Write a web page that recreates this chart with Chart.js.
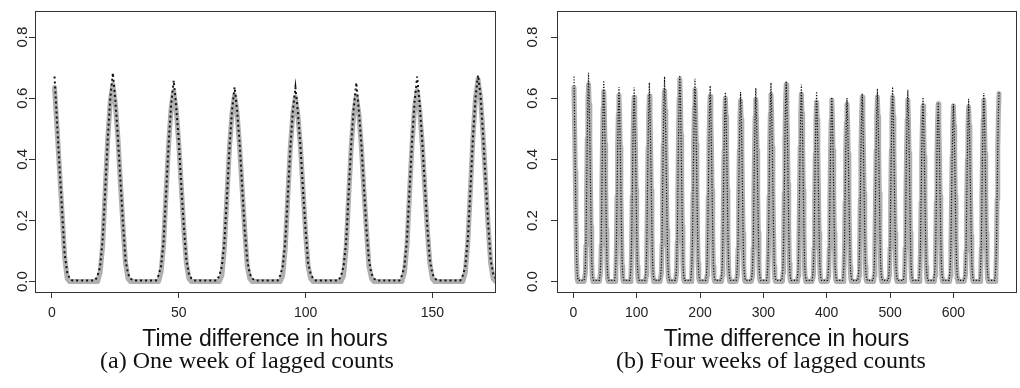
<!DOCTYPE html>
<html lang="en">
<head>
<meta charset="UTF-8">
<title>Lagged counts</title>
<script src="https://cdn.jsdelivr.net/npm/chart.js"></script>
<style>
  body { margin: 0; background: #fff; width: 1020px; height: 388px; position: relative; overflow: hidden; }
  .panel { position: absolute; top: 0; }
  .caption {
    position: absolute; top: 348px;
    font-family: 'Liberation Serif', 'Times New Roman', serif;
    font-size: 24px; line-height: 24px; color: #111;
    white-space: nowrap; transform: translateX(-50%);
  }
</style>
</head>
<body>

<canvas id="weekChart" class="panel" width="510" height="353" style="left:0"></canvas>
<canvas id="monthChart" class="panel" width="510" height="353" style="left:510px"></canvas>
<div class="caption" style="left:247px">(a) One week of lagged counts</div>
<div class="caption" style="left:771px">(b) Four weeks of lagged counts</div>

<script>
// lag in hours runs 1..672, one row per day (24 values)
// grey line: observed lagged counts
const observed = [
  0.635,0.50,0.36,0.22,0.08,0.01, 0,0,0,0,0,0,0,0,0,0,0,0, 0.03,0.12,0.30,0.47,0.59,0.645,
  0.58,0.47,0.32,0.18,0.06,0.01, 0,0,0,0,0,0,0,0,0,0,0,0, 0.03,0.12,0.29,0.45,0.57,0.622,
  0.56,0.45,0.31,0.17,0.06,0.01, 0,0,0,0,0,0,0,0,0,0,0,0, 0.02,0.11,0.28,0.44,0.55,0.610,
  0.55,0.44,0.30,0.17,0.05,0.01, 0,0,0,0,0,0,0,0,0,0,0,0, 0.02,0.11,0.28,0.44,0.55,0.603,
  0.54,0.44,0.30,0.16,0.05,0.01, 0,0,0,0,0,0,0,0,0,0,0,0, 0.02,0.11,0.28,0.44,0.55,0.607,
  0.55,0.44,0.30,0.17,0.05,0.01, 0,0,0,0,0,0,0,0,0,0,0,0, 0.03,0.12,0.29,0.45,0.57,0.625,
  0.56,0.45,0.31,0.17,0.06,0.01, 0,0,0,0,0,0,0,0,0,0,0,0, 0.03,0.13,0.30,0.47,0.60,0.662,
  0.60,0.48,0.33,0.18,0.06,0.01, 0,0,0,0,0,0,0,0,0,0,0,0, 0.03,0.12,0.29,0.45,0.57,0.628,
  0.56,0.45,0.31,0.17,0.06,0.01, 0,0,0,0,0,0,0,0,0,0,0,0, 0.02,0.11,0.28,0.44,0.55,0.606,
  0.54,0.44,0.30,0.16,0.05,0.01, 0,0,0,0,0,0,0,0,0,0,0,0, 0.02,0.11,0.28,0.43,0.54,0.600,
  0.54,0.43,0.30,0.16,0.05,0.01, 0,0,0,0,0,0,0,0,0,0,0,0, 0.02,0.11,0.27,0.43,0.53,0.592,
  0.53,0.43,0.29,0.16,0.05,0.01, 0,0,0,0,0,0,0,0,0,0,0,0, 0.02,0.11,0.27,0.43,0.54,0.597,
  0.53,0.43,0.29,0.16,0.05,0.01, 0,0,0,0,0,0,0,0,0,0,0,0, 0.02,0.11,0.28,0.44,0.55,0.612,
  0.55,0.44,0.30,0.17,0.05,0.01, 0,0,0,0,0,0,0,0,0,0,0,0, 0.03,0.12,0.29,0.46,0.58,0.645,
  0.58,0.46,0.32,0.18,0.06,0.01, 0,0,0,0,0,0,0,0,0,0,0,0, 0.02,0.11,0.28,0.44,0.55,0.614,
  0.55,0.44,0.30,0.17,0.05,0.01, 0,0,0,0,0,0,0,0,0,0,0,0, 0.02,0.11,0.27,0.42,0.53,0.588,
  0.53,0.42,0.29,0.16,0.05,0.01, 0,0,0,0,0,0,0,0,0,0,0,0, 0.02,0.11,0.27,0.42,0.53,0.594,
  0.53,0.43,0.29,0.16,0.05,0.01, 0,0,0,0,0,0,0,0,0,0,0,0, 0.02,0.10,0.26,0.42,0.52,0.580,
  0.52,0.42,0.28,0.15,0.05,0.01, 0,0,0,0,0,0,0,0,0,0,0,0, 0.02,0.11,0.27,0.43,0.54,0.604,
  0.54,0.43,0.29,0.16,0.05,0.01, 0,0,0,0,0,0,0,0,0,0,0,0, 0.02,0.11,0.27,0.43,0.54,0.604,
  0.54,0.43,0.29,0.16,0.05,0.01, 0,0,0,0,0,0,0,0,0,0,0,0, 0.02,0.11,0.27,0.43,0.54,0.604,
  0.54,0.43,0.29,0.16,0.05,0.01, 0,0,0,0,0,0,0,0,0,0,0,0, 0.02,0.11,0.27,0.42,0.53,0.594,
  0.53,0.42,0.29,0.16,0.05,0.01, 0,0,0,0,0,0,0,0,0,0,0,0, 0.02,0.10,0.26,0.41,0.51,0.575,
  0.51,0.41,0.28,0.15,0.05,0.01, 0,0,0,0,0,0,0,0,0,0,0,0, 0.02,0.10,0.26,0.41,0.52,0.582,
  0.52,0.41,0.28,0.15,0.05,0.01, 0,0,0,0,0,0,0,0,0,0,0,0, 0.02,0.10,0.26,0.41,0.51,0.575,
  0.51,0.41,0.28,0.15,0.05,0.01, 0,0,0,0,0,0,0,0,0,0,0,0, 0.02,0.10,0.25,0.40,0.51,0.572,
  0.51,0.41,0.28,0.15,0.05,0.01, 0,0,0,0,0,0,0,0,0,0,0,0, 0.02,0.11,0.27,0.42,0.53,0.594,
  0.53,0.42,0.29,0.16,0.05,0.01, 0,0,0,0,0,0,0,0,0,0,0,0, 0.02,0.11,0.27,0.43,0.55,0.615
];

// dotted black line: fitted values
const fitted = [
  0.671,0.52,0.37,0.23,0.09,0.03,0.01, 0.004,0.004,0.004,0.004,0.004,0.004,0.004,0.004,0.004,0.004, 0.02,0.05,0.14,0.30,0.47,0.60,0.683,
  0.59,0.47,0.33,0.19,0.07,0.025,0.01, 0.004,0.004,0.004,0.004,0.004,0.004,0.004,0.004,0.004,0.004, 0.02,0.05,0.13,0.29,0.45,0.58,0.658,
  0.57,0.46,0.31,0.18,0.07,0.025,0.01, 0.004,0.004,0.004,0.004,0.004,0.004,0.004,0.004,0.004,0.004, 0.02,0.05,0.13,0.28,0.44,0.56,0.636,
  0.56,0.45,0.31,0.17,0.07,0.025,0.01, 0.004,0.004,0.004,0.004,0.004,0.004,0.004,0.004,0.004,0.004, 0.02,0.05,0.13,0.28,0.44,0.56,0.635,
  0.55,0.44,0.30,0.17,0.06,0.025,0.01, 0.004,0.004,0.004,0.004,0.004,0.004,0.004,0.004,0.004,0.004, 0.02,0.05,0.13,0.29,0.45,0.57,0.651,
  0.56,0.45,0.31,0.17,0.07,0.025,0.01, 0.004,0.004,0.004,0.004,0.004,0.004,0.004,0.004,0.004,0.004, 0.02,0.05,0.14,0.30,0.46,0.59,0.671,
  0.58,0.46,0.32,0.18,0.07,0.025,0.01, 0.004,0.004,0.004,0.004,0.004,0.004,0.004,0.004,0.004,0.004, 0.02,0.05,0.14,0.30,0.47,0.60,0.675,
  0.61,0.48,0.33,0.19,0.07,0.025,0.01, 0.004,0.004,0.004,0.004,0.004,0.004,0.004,0.004,0.004,0.004, 0.02,0.05,0.13,0.29,0.45,0.58,0.664,
  0.58,0.46,0.32,0.18,0.07,0.025,0.01, 0.004,0.004,0.004,0.004,0.004,0.004,0.004,0.004,0.004,0.004, 0.02,0.05,0.13,0.28,0.44,0.56,0.641,
  0.56,0.44,0.30,0.17,0.06,0.025,0.01, 0.004,0.004,0.004,0.004,0.004,0.004,0.004,0.004,0.004,0.004, 0.02,0.05,0.12,0.28,0.43,0.55,0.620,
  0.55,0.44,0.30,0.16,0.06,0.025,0.01, 0.004,0.004,0.004,0.004,0.004,0.004,0.004,0.004,0.004,0.004, 0.02,0.05,0.12,0.27,0.43,0.54,0.620,
  0.55,0.44,0.30,0.16,0.06,0.025,0.01, 0.004,0.004,0.004,0.004,0.004,0.004,0.004,0.004,0.004,0.004, 0.02,0.05,0.12,0.28,0.44,0.55,0.633,
  0.55,0.44,0.30,0.17,0.06,0.025,0.01, 0.004,0.004,0.004,0.004,0.004,0.004,0.004,0.004,0.004,0.004, 0.02,0.05,0.13,0.29,0.45,0.57,0.651,
  0.57,0.45,0.31,0.17,0.07,0.025,0.01, 0.004,0.004,0.004,0.004,0.004,0.004,0.004,0.004,0.004,0.004, 0.02,0.05,0.13,0.29,0.46,0.58,0.656,
  0.59,0.47,0.32,0.18,0.07,0.025,0.01, 0.004,0.004,0.004,0.004,0.004,0.004,0.004,0.004,0.004,0.004, 0.02,0.05,0.13,0.28,0.45,0.57,0.645,
  0.56,0.45,0.31,0.17,0.06,0.025,0.01, 0.004,0.004,0.004,0.004,0.004,0.004,0.004,0.004,0.004,0.004, 0.02,0.05,0.12,0.28,0.43,0.55,0.622,
  0.54,0.43,0.29,0.16,0.06,0.025,0.01, 0.004,0.004,0.004,0.004,0.004,0.004,0.004,0.004,0.004,0.004, 0.02,0.05,0.12,0.27,0.42,0.53,0.603,
  0.53,0.43,0.29,0.16,0.06,0.025,0.01, 0.004,0.004,0.004,0.004,0.004,0.004,0.004,0.004,0.004,0.004, 0.02,0.05,0.12,0.27,0.42,0.53,0.601,
  0.53,0.42,0.29,0.16,0.06,0.025,0.01, 0.004,0.004,0.004,0.004,0.004,0.004,0.004,0.004,0.004,0.004, 0.02,0.05,0.12,0.27,0.43,0.54,0.616,
  0.55,0.43,0.30,0.16,0.06,0.025,0.01, 0.004,0.004,0.004,0.004,0.004,0.004,0.004,0.004,0.004,0.004, 0.02,0.05,0.12,0.28,0.44,0.55,0.631,
  0.55,0.44,0.30,0.17,0.06,0.025,0.01, 0.004,0.004,0.004,0.004,0.004,0.004,0.004,0.004,0.004,0.004, 0.02,0.05,0.12,0.28,0.44,0.56,0.637,
  0.56,0.44,0.30,0.17,0.06,0.025,0.01, 0.004,0.004,0.004,0.004,0.004,0.004,0.004,0.004,0.004,0.004, 0.02,0.05,0.12,0.28,0.44,0.55,0.628,
  0.55,0.44,0.30,0.16,0.06,0.025,0.01, 0.004,0.004,0.004,0.004,0.004,0.004,0.004,0.004,0.004,0.004, 0.02,0.05,0.12,0.27,0.42,0.53,0.603,
  0.53,0.42,0.29,0.16,0.06,0.025,0.01, 0.004,0.004,0.004,0.004,0.004,0.004,0.004,0.004,0.004,0.004, 0.02,0.05,0.11,0.26,0.41,0.52,0.586,
  0.52,0.41,0.28,0.15,0.06,0.025,0.01, 0.004,0.004,0.004,0.004,0.004,0.004,0.004,0.004,0.004,0.004, 0.02,0.05,0.11,0.26,0.41,0.51,0.581,
  0.51,0.41,0.28,0.15,0.06,0.025,0.01, 0.004,0.004,0.004,0.004,0.004,0.004,0.004,0.004,0.004,0.004, 0.02,0.05,0.11,0.26,0.41,0.52,0.598,
  0.52,0.42,0.29,0.16,0.06,0.025,0.01, 0.004,0.004,0.004,0.004,0.004,0.004,0.004,0.004,0.004,0.004, 0.02,0.05,0.12,0.27,0.43,0.54,0.617,
  0.54,0.43,0.29,0.16,0.06,0.025,0.01, 0.004,0.004,0.004,0.004,0.004,0.004,0.004,0.004,0.004,0.004, 0.02,0.05,0.12,0.28,0.44,0.55,0.620
];

const weekTicks = [0, 50, 100, 150];
const monthTicks = [0, 100, 200, 300, 400, 500, 600];
const yTicks = [0, 0.2, 0.4, 0.6, 0.8];

const axisFont = "'Liberation Sans', Arial, sans-serif";
const ink = '#222';

function points(values, n) {
    return values.slice(0, n).map((v, i) => ({ x: i + 1, y: v }));
}

// box around the plot region + vertical y tick labels (R style)
const rFrame = {
    id: 'rFrame',
    afterDraw(chart) {
        const ctx = chart.ctx;
        const a = chart.chartArea;
        ctx.save();
        ctx.strokeStyle = '#333';
        ctx.lineWidth = 1;
        ctx.strokeRect(Math.round(a.left) + 0.5, Math.round(a.top) + 0.5,
                       Math.round(a.right - a.left), Math.round(a.bottom - a.top));
        const ys = chart.scales.y;
        ctx.fillStyle = ink;
        ctx.font = '15px ' + axisFont;
        ctx.textAlign = 'center';
        ctx.textBaseline = 'middle';
        yTicks.forEach(v => {
            ctx.save();
            ctx.translate(22.5, ys.getPixelForValue(v));
            ctx.rotate(-Math.PI / 2);
            ctx.fillText(v.toFixed(1), 0, 0);
            ctx.restore();
        });
        ctx.restore();
    }
};

function makePanel(id, n, xMin, xMax, xTicks, leftW, padRight, dotW, dotDash) {
    new Chart(document.getElementById(id), {
        type: 'line',
        data: {
            datasets: [{
                data: points(fitted, n),
                borderColor: '#111',
                borderWidth: dotW,
                borderDash: dotDash,
                pointRadius: 0,
                order: 0,
                clip: 0
            }, {
                data: points(observed, n),
                borderColor: '#b0b0b0',
                borderWidth: 5,
                borderJoinStyle: 'round',
                borderCapStyle: 'round',
                pointRadius: 0,
                order: 1,
                clip: 0
            }]
        },
        options: {
            responsive: false,
            animation: false,
            layout: { padding: { top: 6, right: padRight, left: 0, bottom: 0 } },
            plugins: { legend: { display: false }, tooltip: { enabled: false } },
            elements: { line: { tension: 0 } },
            scales: {
                x: {
                    type: 'linear',
                    min: xMin,
                    max: xMax,
                    afterBuildTicks: s => { s.ticks = xTicks.map(v => ({ value: v })); },
                    afterFit: s => { s.height = 61; },
                    grid: { drawOnChartArea: false, drawTicks: true, tickLength: 6, color: '#333' },
                    border: { display: false },
                    ticks: { font: { size: 14, family: axisFont }, color: ink, padding: 7, maxRotation: 0 },
                    title: {
                        display: true,
                        text: 'Time difference in hours',
                        font: { size: 23, family: axisFont },
                        color: '#111',
                        padding: 0
                    }
                },
                y: {
                    min: -0.034,
                    max: 0.884,
                    afterBuildTicks: s => { s.ticks = yTicks.map(v => ({ value: v })); },
                    afterFit: s => { s.width = leftW; },
                    grid: { drawOnChartArea: false, drawTicks: true, tickLength: 6, color: '#333' },
                    border: { display: false },
                    ticks: { color: 'rgba(0,0,0,0)', font: { size: 14 } }
                }
            }
        },
        plugins: [rFrame]
    });
}

makePanel('weekChart', 180, -6.7, 174.7, weekTicks, 35, 15, 2, [2, 3]);
makePanel('monthChart', 672, -25.8, 698.8, monthTicks, 47, 4, 1.2, [1.2, 1.6]);
</script>
</body>
</html>
